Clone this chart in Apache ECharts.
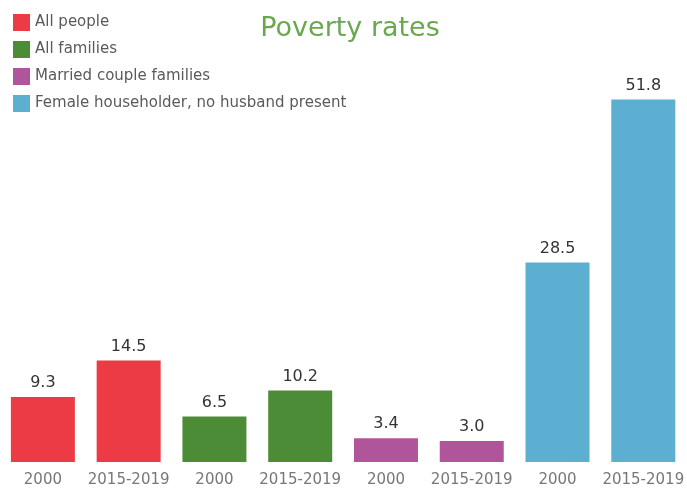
<!DOCTYPE html>
<html>
<head>
<meta charset="utf-8">
<script src="https://cdn.jsdelivr.net/npm/echarts@6/dist/echarts.min.js"></script>
<style>html,body{margin:0;padding:0;background:#fff}#c{width:687px;height:491px}</style>
</head>
<body>
<div id="c"></div>
<script>
const categories = ['2000', '2015-2019', '2000', '2015-2019', '2000', '2015-2019', '2000', '2015-2019'];
const allPeople = [9.3, 14.5, '-', '-', '-', '-', '-', '-'];
const allFamilies = ['-', '-', 6.5, 10.2, '-', '-', '-', '-'];
const marriedCouple = ['-', '-', '-', '-', 3.4, 3.0, '-', '-'];
const femaleHouseholder = ['-', '-', '-', '-', '-', '-', 28.5, 51.8];
const seriesNames = ['All people', 'All families', 'Married couple families', 'Female householder, no husband present'];
const colors = ['#ec3b45', '#4d8c36', '#b1559a', '#5cafd0'];

const FONT = '"DejaVu Sans", sans-serif';
const chart = echarts.init(document.getElementById('c'));
const dataSets = [allPeople, allFamilies, marriedCouple, femaleHouseholder];
chart.setOption({
  animation: false,
  title: {
    text: 'Poverty rates', left: 345, top: 10, textAlign: 'center',
    textStyle: { color: '#6aa84f', fontSize: 27, fontWeight: 'normal', fontFamily: FONT }
  },
  legend: {
    orient: 'vertical', left: 8, top: 9, icon: 'rect',
    itemWidth: 17, itemHeight: 17, itemGap: 10,
    textStyle: { color: '#5a5a5a', fontSize: 15, fontFamily: FONT },
    data: seriesNames
  },
  grid: { left: 0, right: -2, top: 42, bottom: 29, containLabel: false },
  xAxis: {
    type: 'category', data: categories,
    axisLine: { show: false }, axisTick: { show: false },
    axisLabel: { color: '#777', fontSize: 15, fontFamily: FONT, margin: 11, interval: 0 }
  },
  yAxis: { type: 'value', min: 0, max: 60, show: false },
  series: dataSets.map((d, i) => ({
    name: seriesNames[i], type: 'bar', stack: 'all', data: d,
    barWidth: 64, itemStyle: { color: colors[i] },
    label: { show: true, position: 'top', distance: 6, color: '#333', fontSize: 16, fontFamily: FONT,
      formatter: p => Number(p.value).toFixed(1) }
  }))
});
</script>
</body>
</html>
